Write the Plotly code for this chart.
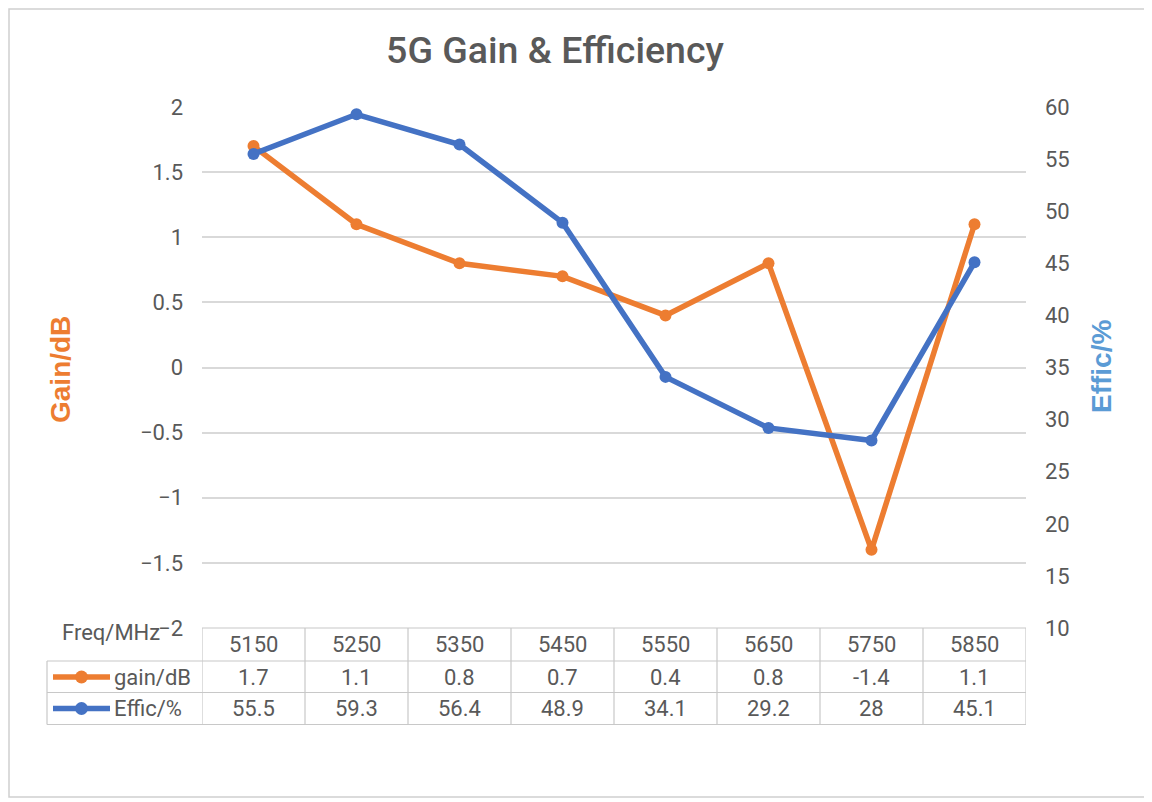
import plotly.graph_objects as go

freqs = ["5150", "5250", "5350", "5450", "5550", "5650", "5750", "5850"]
gain_db = [1.7, 1.1, 0.8, 0.7, 0.4, 0.8, -1.4, 1.1]
effic_pct = [55.5, 59.3, 56.4, 48.9, 34.1, 29.2, 28, 45.1]
gain_labels = ["1.7", "1.1", "0.8", "0.7", "0.4", "0.8", "-1.4", "1.1"]
effic_labels = ["55.5", "59.3", "56.4", "48.9", "34.1", "29.2", "28", "45.1"]

OFF = 8  # page body margin
W, H = 1152 - OFF, 802 - OFF
L, R, T, B = 202 - OFF, 1026 - OFF, 107 - OFF, 628 - OFF
ORANGE = "#ED7D31"
BLUE = "#4472C4"
GRAY_TXT = "#595959"
GRID = "#D9D9D9"
BODY = "Roboto"
TITLE_FONT = "Roboto"
AXT_FONT = "Liberation Sans"


def px(xp):
    return (xp - OFF - L) / (R - L)


def py(yp):
    return (B - (yp - OFF)) / (B - T)


xs = list(range(len(freqs)))

fig = go.Figure()
fig.add_trace(go.Scatter(x=xs, y=gain_db, mode="lines+markers", name="gain/dB",
                         line=dict(color=ORANGE, width=5.5),
                         marker=dict(color=ORANGE, size=12), yaxis="y"))
fig.add_trace(go.Scatter(x=xs, y=effic_pct, mode="lines+markers", name="Effic/%",
                         line=dict(color=BLUE, width=5.5),
                         marker=dict(color=BLUE, size=12), yaxis="y2"))

shapes = []
annotations = []

# table grid
row_y = [628, 661, 692.5, 724.5]
line_style = dict(color="#C8C8C8", width=1.2)
shapes.append(dict(type="line", xref="paper", yref="paper", x0=0, x1=1,
                   y0=py(row_y[0]), y1=py(row_y[0]), line=line_style))
for yy in row_y[1:]:
    shapes.append(dict(type="line", xref="paper", yref="paper", x0=px(47), x1=1,
                       y0=py(yy), y1=py(yy), line=line_style))
for k in range(len(freqs) + 1):
    shapes.append(dict(type="line", xref="x", yref="paper", x0=k - 0.5, x1=k - 0.5,
                       y0=py(row_y[0]), y1=py(row_y[3]), line=line_style))
shapes.append(dict(type="line", xref="paper", yref="paper", x0=px(47), x1=px(47),
                   y0=py(row_y[1]), y1=py(row_y[3]), line=line_style))

cell_font = dict(family=BODY, size=22, color=GRAY_TXT)


def ann(x, y, text, xref="paper", xanchor="center", font=cell_font, **kw):
    d = dict(x=x, y=y, xref=xref, yref="paper", text=text, showarrow=False,
             xanchor=xanchor, yanchor="middle", font=font)
    d.update(kw)
    return d


for i in xs:
    annotations.append(ann(i, py(644), freqs[i], xref="x"))
    annotations.append(ann(i, py(677), gain_labels[i], xref="x"))
    annotations.append(ann(i, py(708.5), effic_labels[i], xref="x"))

annotations.append(ann(px(60), py(632), "Freq/MHz", xanchor="left"))

# legend keys in table
for yy, col, name in [(677, ORANGE, "gain/dB"), (708.5, BLUE, "Effic/%")]:
    shapes.append(dict(type="line", xref="paper", yref="paper", x0=px(53), x1=px(110),
                       y0=py(yy), y1=py(yy), line=dict(color=col, width=5.5)))
    shapes.append(dict(type="circle", xref="paper", yref="paper", xsizemode="pixel",
                       ysizemode="pixel", xanchor=px(81.5), yanchor=py(yy),
                       x0=-6.5, x1=6.5, y0=-6.5, y1=6.5,
                       fillcolor=col, line=dict(color=col, width=0)))
    annotations.append(ann(px(112), py(yy), name, xanchor="left"))

# axis titles
annotations.append(ann(px(60), py(370), "<b>Gain/dB</b>", textangle=-90,
                       font=dict(family=AXT_FONT, size=28, color=ORANGE)))
annotations.append(ann(px(1101), py(367), "<b>Effic/%</b>", textangle=-90,
                       font=dict(family=AXT_FONT, size=28, color="#5B9BD5")))

# outer border
shapes.append(dict(type="rect", xref="paper", yref="paper", x0=px(9), x1=px(1147),
                   y0=py(9), y1=py(797), line=dict(color="#D0D0D0", width=1.5), layer="below"))

fig.update_layout(
    width=W, height=H,
    margin=dict(l=L, r=W - R, t=T, b=H - B),
    paper_bgcolor="white", plot_bgcolor="white",
    showlegend=False,
    title=dict(text="5G Gain & Efficiency", xref="paper", x=px(555), xanchor="center",
               yref="container", y=1 - (50 - OFF) / H, yanchor="middle",
               font=dict(family=TITLE_FONT, size=37.5, color=GRAY_TXT, weight=500)),
    xaxis=dict(range=[-0.5, len(freqs) - 0.5], showticklabels=False, showgrid=False,
               zeroline=False, showline=False, fixedrange=True),
    yaxis=dict(range=[-2, 2], dtick=0.5, showgrid=True, gridcolor=GRID, gridwidth=1.5,
               zeroline=False, showline=False, ticklabelstandoff=18,
               tickfont=dict(family=BODY, size=22, color=GRAY_TXT)),
    yaxis2=dict(range=[10, 60], dtick=5, overlaying="y", side="right", showgrid=False,
                zeroline=False, showline=False, ticklabelstandoff=18,
                tickfont=dict(family=BODY, size=22, color=GRAY_TXT)),
    shapes=shapes,
    annotations=annotations,
)

fig.write_html("out.html")
